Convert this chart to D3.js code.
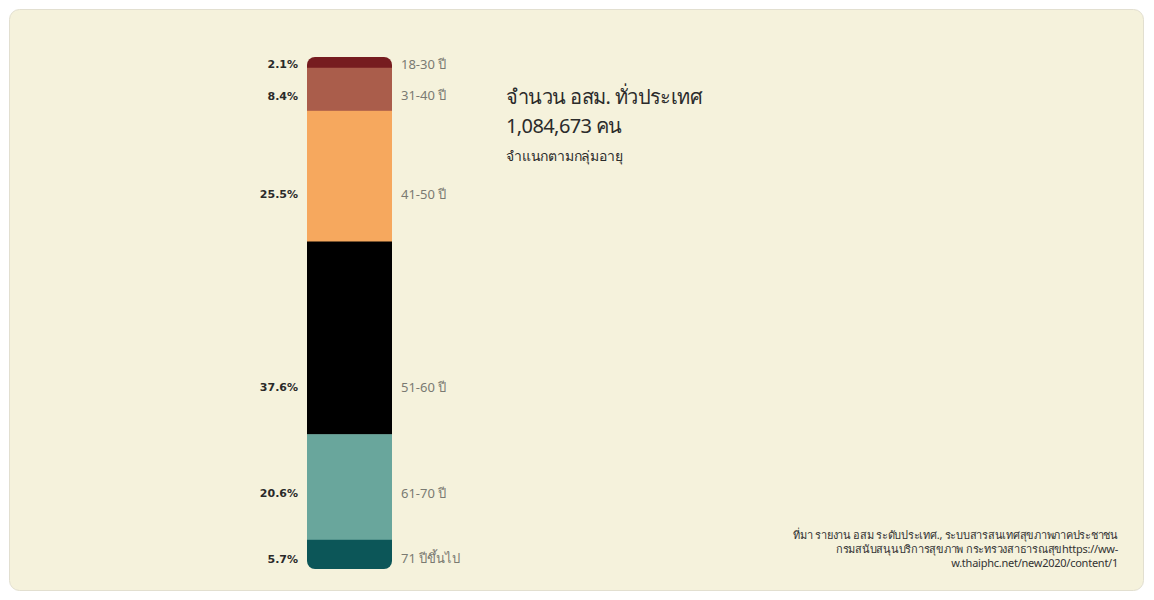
<!DOCTYPE html>
<html>
<head>
<meta charset="utf-8">
<script src="https://cdn.jsdelivr.net/npm/d3@7"></script>
<style>
  body { margin: 0; background: #fff; }
  svg { display: block; }
</style>
</head>
<body>
<div id="chart-area"></div>
<script>
// data
var groups = ["18-30 ปี", "31-40 ปี", "41-50 ปี", "51-60 ปี", "61-70 ปี", "71 ปีขึ้นไป"]
var shares = [2.1, 8.4, 25.5, 37.6, 20.6, 5.7]
var colors = ["#761c1f", "#aa5d4b", "#f6a85e", "#000000", "#69a69c", "#0c5658"]
var titleLines = ["จำนวน อสม. ทั่วประเทศ", "1,084,673 คน"]
var subtitle = "จำแนกตามกลุ่มอายุ"
var sourceLines = [
  "ที่มา รายงาน อสม ระดับประเทศ., ระบบสารสนเทศสุขภาพภาคประชาชน",
  "กรมสนับสนุนบริการสุขภาพ กระทรวงสาธารณสุขhttps://ww-",
  "w.thaiphc.net/new2020/content/1"
]

var width = 1154
var height = 600

var svg = d3.select("#chart-area")
  .append("svg")
  .attr("width", width)
  .attr("height", height)

// card background
svg.append("rect")
  .attr("x", 9.5).attr("y", 9.5)
  .attr("width", 1134).attr("height", 581)
  .attr("rx", 10)
  .attr("fill", "#f5f2dc")
  .attr("stroke", "#e2dfd0")

// stack data
var total = d3.sum(shares)
var cum = 0
var rows = groups.map((g, i) => {
  var r = {group: g, value: shares[i], color: colors[i], y0: cum, y1: cum + shares[i]}
  cum += shares[i]
  return r
})

var y = d3.scaleLinear().domain([0, total]).range([57, 569])
var barX = 307, barW = 85

svg.append("clipPath").attr("id", "bar-clip")
  .append("rect")
  .attr("x", barX).attr("y", y(0))
  .attr("width", barW).attr("height", y(total) - y(0))
  .attr("rx", 8)

var g = svg.append("g").attr("clip-path", "url(#bar-clip)")

g.selectAll("rect")
  .data(rows)
  .enter()
  .append("rect")
    .attr("x", barX)
    .attr("y", d => y(d.y0))
    .attr("width", barW)
    .attr("height", d => y(d.y1) - y(d.y0) + 0.5)
    .attr("fill", d => d.color)

// label sits near the lower part of each segment
function labelY(d) {
  var h = y(d.y1) - y(d.y0)
  return y(d.y1) - Math.min(47, Math.max(h * 0.35, h - 59))
}

svg.selectAll(".pct")
  .data(rows)
  .enter()
  .append("text")
    .attr("class", "pct")
    .attr("x", 298)
    .attr("y", labelY)
    .attr("dy", "0.35em")
    .attr("text-anchor", "end")
    .attr("font-family", "DejaVu Sans, sans-serif")
    .attr("font-weight", "bold")
    .attr("font-size", "11px")
    .attr("fill", "#2a2a2a")
    .text(d => d.value.toFixed(1) + "%")

svg.selectAll(".cat")
  .data(rows)
  .enter()
  .append("text")
    .attr("class", "cat")
    .attr("x", 401)
    .attr("y", labelY)
    .attr("dy", "0.35em")
    .attr("font-family", "Noto Sans, sans-serif")
    .attr("font-size", "13px")
    .attr("fill", "#7a7a72")
    .text(d => d.group)

// title
svg.selectAll(".title")
  .data(titleLines)
  .enter()
  .append("text")
    .attr("class", "title")
    .attr("x", 506)
    .attr("y", (d, i) => 104 + i * 29)
    .attr("font-family", "Noto Sans, sans-serif")
    .attr("font-size", "20px")
    .attr("letter-spacing", "-0.6px")
    .attr("fill", "#2b2b2b")
    .text(d => d)

svg.append("text")
  .attr("x", 506)
  .attr("y", 161)
  .attr("font-family", "Noto Sans, sans-serif")
  .attr("font-size", "14px")
  .attr("letter-spacing", "-0.2px")
  .attr("fill", "#2b2b2b")
  .text(subtitle)

// source
svg.selectAll(".source")
  .data(sourceLines)
  .enter()
  .append("text")
    .attr("class", "source")
    .attr("x", 1118)
    .attr("y", (d, i) => 539 + i * 14)
    .attr("text-anchor", "end")
    .attr("font-family", "Noto Sans, sans-serif")
    .attr("font-size", "11px")
    .attr("letter-spacing", "-0.25px")
    .attr("fill", "#333")
    .text(d => d)
</script>
</body>
</html>
